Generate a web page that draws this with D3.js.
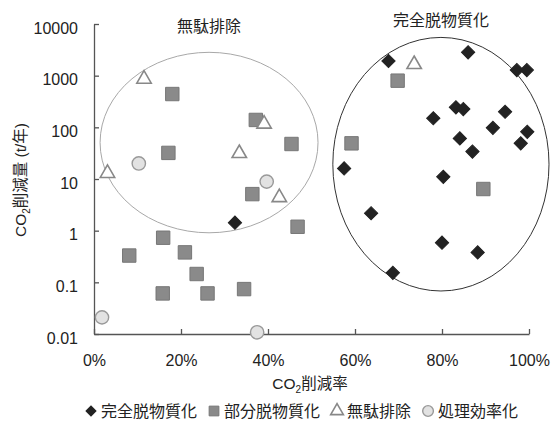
<!DOCTYPE html>
<html>
<head>
<meta charset="utf-8">
<script src="https://cdn.jsdelivr.net/npm/d3@7"></script>
<style>
  body { margin: 0; background: #fff; }
  svg { display: block; }
  text { font-family: "Liberation Sans", Arial, "Noto Sans CJK JP", sans-serif; fill: #222; }
</style>
</head>
<body>
<svg id="chart" width="557" height="426"></svg>
<script>
// ---- data ----
const xTicks = [0, 20, 40, 60, 80, 100];
const xTickLabels = ["0%", "20%", "40%", "60%", "80%", "100%"];
const yTicks = [0.01, 0.1, 1, 10, 100, 1000, 10000];
const yTickLabels = ["0.01", "0.1", "1", "10", "100", "1000", "10000"];

const seriesNames = ["完全脱物質化", "部分脱物質化", "無駄排除", "処理効率化"];

// 完全脱物質化 [rate %, t/year]
const fullDemat = [
  [67.7, 1920], [86.0, 2830], [97.2, 1285], [99.5, 1285],
  [83.2, 244], [84.9, 226], [78.0, 150], [94.5, 200],
  [91.7, 98], [99.6, 82], [98.1, 49], [84.1, 61],
  [87.0, 34], [57.5, 16], [80.3, 11], [63.7, 2.17],
  [80.0, 0.585], [88.2, 0.38], [68.7, 0.153], [32.4, 1.43]
];
// 部分脱物質化
const partDemat = [
  [18.0, 441], [17.1, 32], [37.2, 139], [36.4, 5.1],
  [69.8, 800], [59.2, 49], [89.5, 6.4], [45.4, 47.6],
  [46.8, 1.19], [15.9, 0.73], [8.1, 0.33], [20.9, 0.38],
  [23.6, 0.145], [15.8, 0.061], [26.1, 0.061], [34.5, 0.074]
];
// 無駄排除
const wasteElim = [
  [11.5, 861], [39.1, 116], [33.4, 31.4], [3.1, 12.9],
  [73.6, 1656], [42.6, 4.4]
];
// 処理効率化
const procEff = [
  [10.3, 20], [39.7, 8.9], [1.84, 0.021], [37.5, 0.0108]
];

// group ellipses: [x min %, x max %, y min, y max]
const ellipseWaste = [1.4, 51.5, 0.91, 2830];
const ellipseFull = [54.9, 104.6, 0.068, 5500];
const ellipseLabels = ["無駄排除", "完全脱物質化"];

// ---- chart ----
const svg = d3.select("#chart");
const x = d3.scaleLinear().domain([0, 100]).range([94, 529]);
const y = d3.scaleLog().domain([0.01, 10000]).range([334, 24]);

// ellipses
function drawEllipse(e, stroke) {
  const cx = (x(e[0]) + x(e[1])) / 2, rx = (x(e[1]) - x(e[0])) / 2;
  const cy = (y(e[2]) + y(e[3])) / 2, ry = (y(e[2]) - y(e[3])) / 2;
  svg.append("ellipse").attr("cx", cx).attr("cy", cy).attr("rx", rx).attr("ry", ry)
    .attr("fill", "none").attr("stroke", stroke).attr("stroke-width", 1);
  return [cx, y(e[3])];
}
const top1 = drawEllipse(ellipseWaste, "#a8a8a8");
const top2 = drawEllipse(ellipseFull, "#333");
svg.append("text").attr("x", top1[0]).attr("y", 32).attr("text-anchor", "middle")
  .style("font-size", "16px").text(ellipseLabels[0]);
svg.append("text").attr("x", top2[0]).attr("y", 26).attr("text-anchor", "middle")
  .style("font-size", "16px").text(ellipseLabels[1]);

// axes
const xAxis = d3.axisBottom(x).tickValues(xTicks).tickFormat((d, i) => xTickLabels[i])
  .tickSizeInner(-5).tickSizeOuter(0).tickPadding(21);
const yAxis = d3.axisLeft(y).tickValues(yTicks).tickFormat((d, i) => yTickLabels[i])
  .tickSizeInner(-5).tickSizeOuter(0).tickPadding(16);

const gx = svg.append("g").attr("transform", "translate(0,334)").call(xAxis);
const gy = svg.append("g").attr("transform", "translate(94,0)").call(yAxis);
[gx, gy].forEach(g => {
  g.select(".domain").attr("stroke", "#555").attr("stroke-width", 1.3);
  g.selectAll(".tick line").attr("stroke", "#555").attr("stroke-width", 1.3);
  g.selectAll(".tick text").style("font-size", "16px").style("font-family", "'Liberation Sans', Arial, sans-serif").attr("fill", "#222");
});
gy.selectAll(".tick text").attr("dy", "0.57em");

// axis titles
const xt = svg.append("text").attr("x", 310).attr("y", 389).attr("text-anchor", "middle").style("font-size", "15.5px");
xt.append("tspan").text("CO");
xt.append("tspan").attr("dy", 4).style("font-size", "10px").text("2");
xt.append("tspan").attr("dy", -4).text("削減率");

const yt = svg.append("text").attr("transform", "translate(26,180) rotate(-90)").attr("text-anchor", "middle").style("font-size", "15.5px");
yt.append("tspan").text("CO");
yt.append("tspan").attr("dy", 4).style("font-size", "10px").text("2");
yt.append("tspan").attr("dy", -4).text("削減量 (t/年)");

// marker styles
const styles = [
  { sym: d3.symbolSquare, size: 88, rot: 45, fill: "#222", stroke: "#222", sw: 1 },
  { sym: d3.symbolSquare, size: 180, rot: 0, fill: "#8a8a8a", stroke: "#777", sw: 1 },
  { sym: d3.symbolTriangle, size: 90, rot: 0, fill: "#fff", stroke: "#888", sw: 1.6 },
  { sym: d3.symbolCircle, size: 140, rot: 0, fill: "#e2e2e2", stroke: "#999", sw: 1.4 }
];
const allSeries = [fullDemat, partDemat, wasteElim, procEff];

// draw in order: squares, circles, triangles, diamonds
[1, 3, 2, 0].forEach(si => {
  const st = styles[si];
  svg.append("g").selectAll("path").data(allSeries[si]).join("path")
    .attr("d", d3.symbol().type(st.sym).size(st.size))
    .attr("transform", d => `translate(${x(d[0])},${y(d[1])}) rotate(${st.rot})`)
    .attr("fill", st.fill).attr("stroke", st.stroke).attr("stroke-width", st.sw);
});

// legend
const lg = svg.append("g");
let lx = 91;
const ly = 411;
const legendSizes = [50, 95, 70, 90];
seriesNames.forEach((name, i) => {
  const st = styles[i];
  lg.append("path").attr("d", d3.symbol().type(st.sym).size(legendSizes[i]))
    .attr("transform", `translate(${lx},${ly}) rotate(${st.rot})`)
    .attr("fill", st.fill).attr("stroke", st.stroke).attr("stroke-width", st.sw);
  const t = lg.append("text").attr("x", lx + 10).attr("y", ly + 5.5).style("font-size", "16px").text(name);
  lx = lx + 10 + t.node().getComputedTextLength() + 17;
});
</script>
</body>
</html>
